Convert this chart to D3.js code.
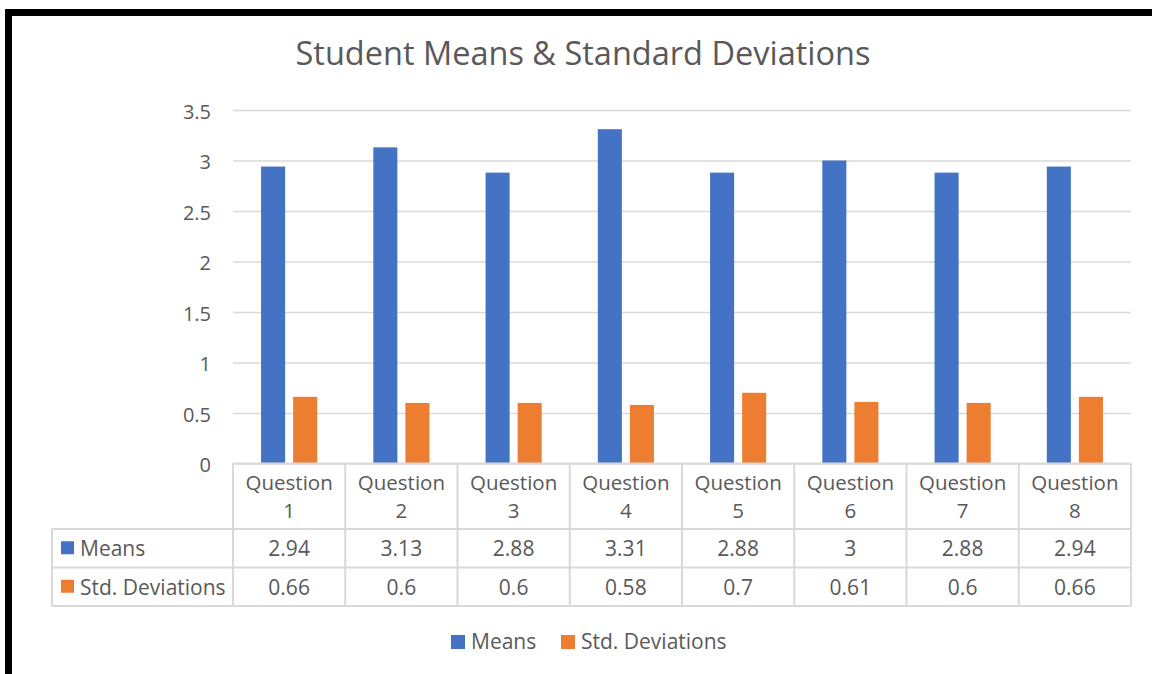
<!DOCTYPE html>
<html>
<head>
<meta charset="utf-8">
<script src="https://cdn.jsdelivr.net/npm/d3@7/dist/d3.min.js"></script>
<style>
  html, body { margin: 0; padding: 0; background: #fff; }
  svg { display: block; }
  text { font-family: "Open Sans", "Noto Sans", sans-serif; fill: #595959; }
</style>
</head>
<body>
<svg id="chart" width="1152" height="674"></svg>
<script>
// Chart data
const categories = ["Question 1", "Question 2", "Question 3", "Question 4",
                    "Question 5", "Question 6", "Question 7", "Question 8"];
const seriesNames = ["Means", "Std. Deviations"];
const means = [2.94, 3.13, 2.88, 3.31, 2.88, 3, 2.88, 2.94];
const stdDevs = [0.66, 0.6, 0.6, 0.58, 0.7, 0.61, 0.6, 0.66];
const yTicks = [0, 0.5, 1, 1.5, 2, 2.5, 3, 3.5];
const titleText = "Student Means & Standard Deviations";

const colors = { "Means": "#4472C4", "Std. Deviations": "#ED7D31" };
const gridColor = "#D9D9D9";
const fontFamily = "'Open Sans', 'Noto Sans', sans-serif";

const rows = categories.map((c, i) => ({ cat: c, "Means": means[i], "Std. Deviations": stdDevs[i] }));

const svg = d3.select("#chart");

// Frame edges
svg.append("rect").attr("x", 5).attr("y", 9).attr("width", 1147).attr("height", 7).attr("fill", "#000");
svg.append("rect").attr("x", 5).attr("y", 9).attr("width", 7).attr("height", 665).attr("fill", "#000");

// Scales
const plotLeft = 233, plotRight = 1131, plotTop = 110, plotBottom = 463.5;
const x = d3.scaleBand().domain(categories).range([plotLeft, plotRight]).paddingInner(0).paddingOuter(0);
const xs = d3.scaleBand().domain(seriesNames)
  .range([x.bandwidth() * 0.25, x.bandwidth() * 0.75]).paddingInner(0.25).paddingOuter(0);
const y = d3.scaleLinear().domain([0, 3.5]).range([plotBottom, plotTop]);

// Title
svg.append("text")
  .attr("x", 583).attr("y", 65)
  .attr("text-anchor", "middle")
  .style("font-size", "32.5px")
  .text(titleText);

// Gridlines and y-axis labels
const yAxis = d3.axisLeft(y).tickValues(yTicks).tickFormat(d => String(d))
  .tickSize(-(plotRight - plotLeft)).tickPadding(22);
const gy = svg.append("g").attr("transform", `translate(${plotLeft},0)`).call(yAxis);
gy.select(".domain").remove();
gy.selectAll(".tick line").attr("stroke", gridColor).attr("stroke-width", 1.5);
gy.selectAll(".tick text").attr("fill", "#595959").attr("dy", "0.4em")
  .style("font-size", "20px").style("font-family", fontFamily);

// Bars
const groups = svg.append("g").selectAll("g").data(rows).join("g")
  .attr("transform", d => `translate(${x(d.cat)},0)`);
groups.selectAll("rect").data(d => seriesNames.map(s => ({ s, v: d[s] }))).join("rect")
  .attr("x", d => xs(d.s))
  .attr("width", xs.bandwidth())
  .attr("y", d => y(d.v))
  .attr("height", d => y(0) - y(d.v))
  .attr("fill", d => colors[d.s]);

// Data table beneath the plot
const tableLeft = 52;
const headerBottom = 529, row1Bottom = 567.5, row2Bottom = 606;
const table = svg.append("g").attr("stroke", gridColor).attr("stroke-width", 2);
table.append("line").attr("x1", plotLeft).attr("x2", plotRight).attr("y1", plotBottom).attr("y2", plotBottom);
[headerBottom, row1Bottom, row2Bottom].forEach(yy => {
  table.append("line").attr("x1", tableLeft).attr("x2", plotRight).attr("y1", yy).attr("y2", yy);
});
table.append("line").attr("x1", tableLeft).attr("x2", tableLeft).attr("y1", headerBottom).attr("y2", row2Bottom);
categories.forEach(c => {
  table.append("line").attr("x1", x(c)).attr("x2", x(c)).attr("y1", plotBottom).attr("y2", row2Bottom);
});
table.append("line").attr("x1", plotRight).attr("x2", plotRight).attr("y1", plotBottom).attr("y2", row2Bottom);

// Category headers (two lines)
const hdr = svg.append("g").selectAll("text").data(categories).join("text")
  .attr("text-anchor", "middle")
  .style("font-size", "20.5px");
hdr.each(function (c) {
  const parts = c.split(" ");
  const t = d3.select(this);
  t.append("tspan").attr("x", x(c) + x.bandwidth() / 2).attr("y", 490).text(parts[0]);
  t.append("tspan").attr("x", x(c) + x.bandwidth() / 2).attr("y", 518).text(parts[1]);
});

// Row labels with colour keys, and values
const rowInfo = [
  { name: "Means", values: means, mid: (headerBottom + row1Bottom) / 2 },
  { name: "Std. Deviations", values: stdDevs, mid: (row1Bottom + row2Bottom) / 2 }
];
rowInfo.forEach(r => {
  svg.append("rect").attr("x", 61).attr("y", r.mid - 7).attr("width", 13).attr("height", 13)
    .attr("fill", colors[r.name]);
  svg.append("text").attr("x", 80).attr("y", r.mid + 8).style("font-size", "21px").text(r.name);
  svg.append("g").selectAll("text").data(r.values).join("text")
    .attr("x", (d, i) => x(categories[i]) + x.bandwidth() / 2)
    .attr("y", r.mid + 8)
    .attr("text-anchor", "middle")
    .style("font-size", "21px")
    .text(d => String(d));
});

// Legend
const legendItems = [{ name: "Means", x: 451 }, { name: "Std. Deviations", x: 561 }];
legendItems.forEach(it => {
  svg.append("rect").attr("x", it.x).attr("y", 635).attr("width", 14).attr("height", 14)
    .attr("fill", colors[it.name]);
  svg.append("text").attr("x", it.x + 20).attr("y", 649).style("font-size", "21px").text(it.name);
});
</script>
</body>
</html>
